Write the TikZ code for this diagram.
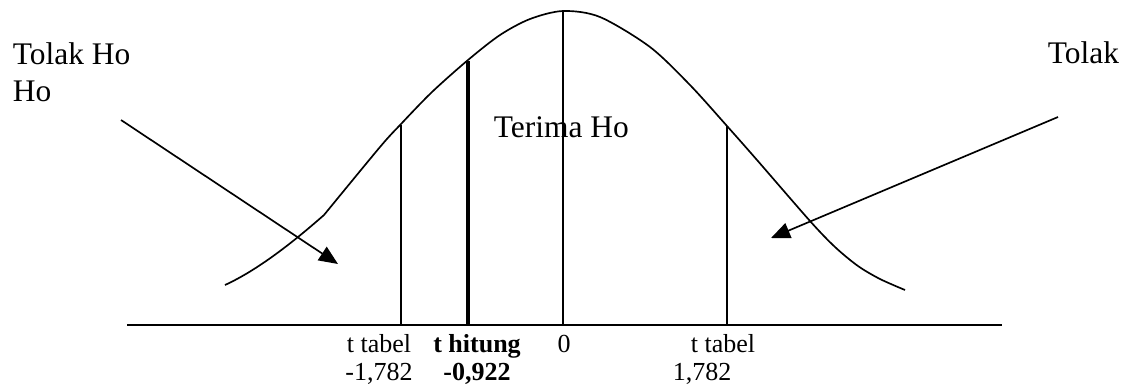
\documentclass[tikz,border=0pt]{standalone}
\usepackage{fontspec}
\setmainfont{Liberation Serif}
\usetikzlibrary{arrows.meta}
\newcommand{\drawpointer}{\draw[-{Triangle[length=0.38cm, width=0.32cm]}]}
\tikzset{
    biglabel/.style={font=\fontsize{17.9}{21}\selectfont, inner sep=0pt},
    ticklabel/.style={font=\fontsize{14.8}{15.9}\selectfont, inner sep=0pt, align=center}
}

\begin{document}
\begin{tikzpicture}[x=0.02cm, y=-0.02cm, line width=0.95pt]
    \useasboundingbox (0,0) rectangle (1130,390);

    % Draw axis
    \coordinate (axl) at (127,325);
    \coordinate (axr) at (1002,325);
    \draw (axl) -- (axr);

    % Draw curve
    \draw (225,285) .. controls (262,268) and (300,236) .. (324,215)
        -- plot[smooth, tension=0.5] coordinates {(324,215) (380,147) (401,124) (432,92)
        (468,60) (500,35) (530,19) (563,11) (600,17) (650,47) (690,85) (727,126)
        (757,160) (810,221) (835,247) (858,266) (880,279) (905,290)};

    % Draw bars
    \coordinate (tl) at (401,125);
    \coordinate (tlb) at (401,325);
    \coordinate (th) at (468,61);
    \coordinate (thb) at (468,325);
    \coordinate (t0) at (563,11);
    \coordinate (t0b) at (563,325);
    \coordinate (tr) at (727,126);
    \coordinate (trb) at (727,325);
    \draw (tl) -- (tlb);
    \draw[line width=2.2pt] (th) -- (thb);
    \draw (t0) -- (t0b);
    \draw (tr) -- (trb);

    % Draw pointers
    \coordinate (pl) at (121,120);
    \coordinate (plt) at (338,264);
    \coordinate (pr) at (1058,117);
    \coordinate (prt) at (771,238);
    \drawpointer (pl) -- (plt);
    \drawpointer (pr) -- (prt);

    % Region labels
    \node[biglabel, align=left, anchor=north west] (tolakl) at (12,42) {Tolak Ho\\Ho};
    \node[biglabel, anchor=base west] (tolakr) at (1047,63) {Tolak};
    \node[biglabel, anchor=base west] (terima) at (493,137) {Terima Ho};

    % Axis labels
    \node[ticklabel, anchor=north] (lbtl) at (379,334) {t tabel\\-1,782};
    \node[ticklabel, anchor=north] (lbth) at (477,334) {\textbf{t hitung}\\\textbf{-0,922}};
    \node[ticklabel, anchor=base] (lbz) at (564,352) {0};
    \node[ticklabel, align=left, anchor=north west] (lbtr) at (672,334) {\hspace*{0.36cm}t tabel\\1,782};
\end{tikzpicture}
\end{document}
